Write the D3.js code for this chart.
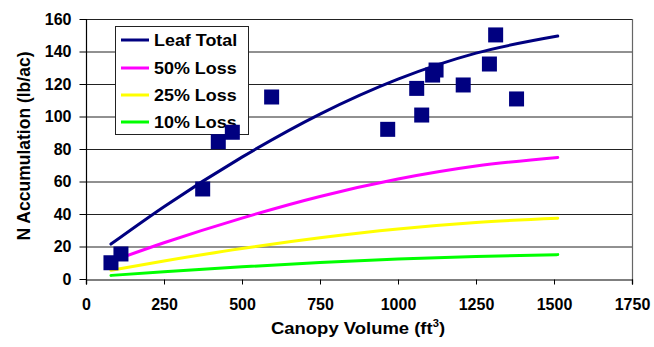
<!DOCTYPE html>
<html><head><meta charset="utf-8">
<script src="https://cdn.jsdelivr.net/npm/d3@7"></script>
<style>
html,body{margin:0;padding:0;background:#fff;}
text{font-family:Arial,"Liberation Sans",sans-serif;font-weight:bold;fill:#000;}
</style></head>
<body><svg id="c" width="654" height="347"></svg>
<script>
// ---- data ----
const scatterX = [80,112,374,424,469,595,967,1060,1076,1111,1122,1209,1293,1313,1380];
const scatterY = [10,15.4,55.4,84.5,90.3,112,92.1,117.3,100.9,125.5,128.6,119.4,132.3,150.2,110.8];
const curveX = [80,250,500,750,1000,1250,1512];
const leafTotal = [21.5,44.5,75,101.5,123,139,149.5];
const loss50 = [10.8,22.3,37.5,50.8,61.5,69.5,74.8];
const loss25 = [5.4,11.1,18.8,25.4,30.8,34.8,37.4];
const loss10 = [2.2,4.5,7.5,10.2,12.3,13.9,15.0];
const seriesNames = ["Leaf Total","50% Loss","25% Loss","10% Loss"];
const seriesColors = ["#000080","#FF00FF","#FFFF00","#00FF00"];
const xTicks = [0,250,500,750,1000,1250,1500,1750];
const yTicks = [0,20,40,60,80,100,120,140,160];

const svg = d3.select("#c");
const L=86,R=632,T=19,B=279;
const x = d3.scaleLinear().domain([0,1750]).range([L,R]);
const y = d3.scaleLinear().domain([0,160]).range([B,T]);

// gridlines
svg.append("g").selectAll("line").data(yTicks.filter(d=>d>0)).join("line")
  .attr("x1",L).attr("x2",R).attr("y1",d=>y(d)+0.5).attr("y2",d=>y(d)+0.5)
  .attr("stroke","#222").attr("stroke-width",1);
// right border
svg.append("line").attr("x1",R+0.5).attr("x2",R+0.5).attr("y1",T).attr("y2",B+5)
  .attr("stroke","#666").attr("stroke-width",1.2);

// axes
const yAxis = svg.append("g").attr("transform",`translate(${L+0.5},0)`)
  .call(d3.axisLeft(y).tickValues(yTicks).tickFormat(d3.format("d")).tickSize(7).tickPadding(8));
const xAxis = svg.append("g").attr("transform",`translate(0,${B+0.5})`)
  .call(d3.axisBottom(x).tickValues(xTicks).tickFormat(d3.format("d")).tickSize(5).tickPadding(14));
[yAxis,xAxis].forEach(g=>{
  g.select(".domain").attr("stroke","#000").attr("stroke-width",1.2);
  g.selectAll(".tick line").attr("stroke","#000");
  g.selectAll("text").style("font-size","16px").style("font-family","Arial,'Liberation Sans',sans-serif").style("font-weight","bold").attr("fill","#000");
});
yAxis.select(".domain").attr("d",`M-0,${T}V${B+5}`);

// lines
const seriesData = [leafTotal,loss50,loss25,loss10];
const line = d3.line().x((d,i)=>x(curveX[i])).y(d=>y(d)).curve(d3.curveMonotoneX);
[3,2,1,0].forEach(k=>{
  svg.append("path").attr("d",line(seriesData[k])).attr("fill","none")
    .attr("stroke",seriesColors[k]).attr("stroke-width",3).attr("stroke-linecap","round");
});

// legend
const lg = svg.append("g");
lg.append("rect").attr("x",115.5).attr("y",26.5).attr("width",133).attr("height",108)
  .attr("fill","#fff").attr("stroke","#222").attr("stroke-width",1);
const rowY=[40,68,95,122];
seriesNames.forEach((n,i)=>{
  lg.append("line").attr("x1",121).attr("x2",149).attr("y1",rowY[i]).attr("y2",rowY[i])
    .attr("stroke",seriesColors[i]).attr("stroke-width",3);
  lg.append("text").attr("transform",`translate(154,${rowY[i]+6}) scale(1.12,1)`)
    .style("font-size","16px").text(n);
});

// markers
const ms=15;
svg.append("g").selectAll("rect").data(scatterX).join("rect")
  .attr("x",(d)=>x(d)-ms/2).attr("y",(d,i)=>y(scatterY[i])-ms/2)
  .attr("width",ms).attr("height",ms).attr("fill","#000080");

// titles
svg.append("text").attr("transform",`translate(358,334) scale(1.12,1)`).attr("text-anchor","middle")
  .style("font-size","16.5px")
  .html('Canopy Volume (ft<tspan dy="-7" font-size="10">3</tspan><tspan dy="7">)</tspan>');
svg.append("text").attr("transform",`translate(30,146) rotate(-90)`).attr("text-anchor","middle")
  .style("font-size","17.5px").text("N Accumulation (lb/ac)");
</script></body></html>
